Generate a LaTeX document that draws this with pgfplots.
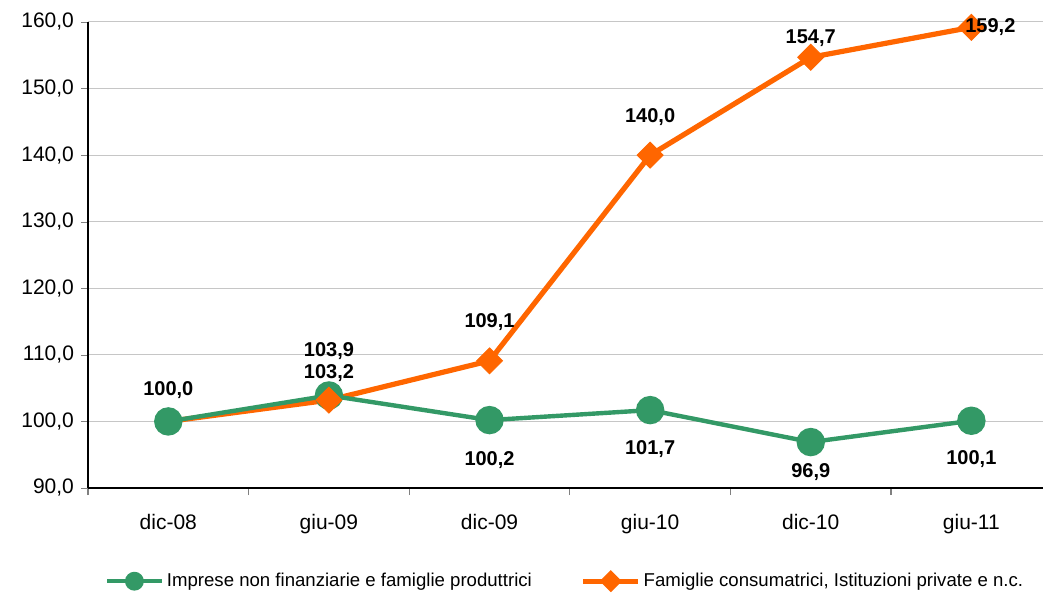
\documentclass[border=0pt]{standalone}
\usepackage{pgfplots}
\pgfplotsset{compat=1.18}
\usepackage{fontspec}
\setmainfont{Liberation Sans}
\definecolor{verde}{RGB}{51,153,102}
\definecolor{arancio}{RGB}{255,102,0}

% x y label, label shift (pt)
\pgfplotstableread{
x y lbl dx dy
0 100.0 100,0 0 15.5
1 103.9 103,9 0 22
2 100.2 100,2 0 -20
3 101.7 101,7 0 -19.5
4 96.9 96,9 0 -15
5 100.1 100,1 0 -19
}\imprese

\pgfplotstableread{
x y lbl dx dy
0 100.0 100,0 0 0
1 103.2 103,2 0 13.5
2 109.1 109,1 0 19.5
3 140.0 140,0 0 19
4 154.7 154,7 0 9.5
5 159.2 159,2 9.5 0
}\famiglie

\begin{document}
\begin{tikzpicture}
\useasboundingbox (-44pt,-53.5pt) rectangle (477.5pt,244pt);
\begin{axis}[
  scale only axis,
  width=477.5pt, height=233pt,
  xmin=-0.5, xmax=5.446,
  ymin=90, ymax=160,
  clip=false,
  axis lines=left,
  axis line style={-, line width=0.6pt},
  xtick={0,...,5},
  xticklabels={dic-08,giu-09,dic-09,giu-10,dic-10,giu-11},
  major x tick style={draw=none},
  minor xtick={-0.5,0.5,...,4.5},
  minor x tick style={line width=0.6pt},
  ytick={90,100,...,160},
  tick align=outside,
  major tick length=3.5pt,
  minor tick length=3.5pt,
  ymajorgrids,
  grid style={gray!45, line width=0.5pt},
  ticklabel style={font=\fontsize{10.5}{12}\selectfont},
  xticklabel style={yshift=-6pt},
  yticklabel style={/pgf/number format/.cd, fixed, fixed zerofill, precision=1, use comma, assume math mode=true},
  legend columns=2,
  legend style={draw=none, at={(0.5,-0.2)}, anchor=center,
    font=\fontsize{9.3}{11}\selectfont,
    nodes={inner xsep=1.5pt},
    /tikz/every even column/.append style={column sep=23pt}},
  legend cell align=left,
  legend image code/.code={\draw[mark repeat=2, mark phase=2] plot coordinates {(0cm,0cm) (0.48cm,0cm) (0.96cm,0cm)};},
  visualization depends on={\thisrow{dx}\as\dx},
  visualization depends on={\thisrow{dy}\as\dy},
  every node near coord/.append style={font=\bfseries\fontsize{10}{12}\selectfont, text=black, anchor=center, xshift=\dx pt, yshift=\dy pt},
]
\addplot[arancio, line width=2.6pt, forget plot] table[x=x, y=y] {\famiglie};
\addplot[verde, line width=2.2pt, mark=*, mark size=6pt, forget plot,
  nodes near coords, point meta=explicit symbolic] table[x=x, y=y, meta=lbl] {\imprese};
\addplot[arancio, only marks, mark=square*, mark size=4.6pt, mark options={rotate=45}, forget plot,
  skip coords between index={0}{1},
  nodes near coords, point meta=explicit symbolic] table[x=x, y=y, meta=lbl] {\famiglie};
\addlegendimage{verde, line width=2.2pt, mark=*, mark size=3.6pt}
\addlegendentry{Imprese non finanziarie e famiglie produttrici}
\addlegendimage{arancio, line width=2.6pt, mark=square*, mark size=2.6pt, mark options={rotate=45}}
\addlegendentry{Famiglie consumatrici, Istituzioni private e n.c.}
\end{axis}
\end{tikzpicture}
\end{document}
